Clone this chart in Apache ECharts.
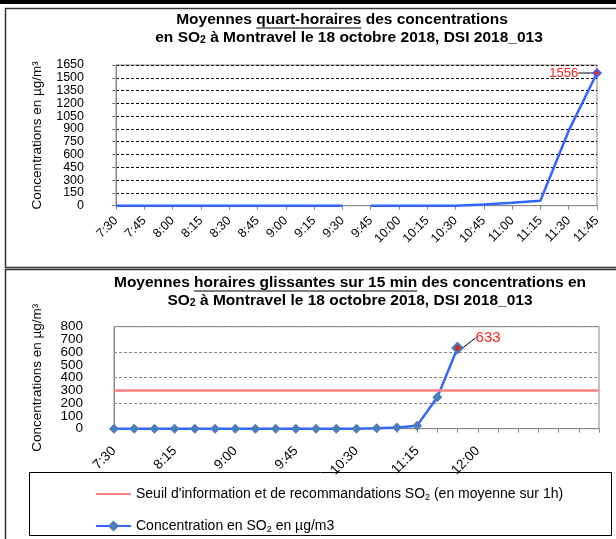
<!DOCTYPE html>
<html><head><meta charset="utf-8">
<script src="https://cdn.jsdelivr.net/npm/echarts@6/dist/echarts.min.js"></script>
<style>html,body{margin:0;padding:0;background:#fff}#c{width:616px;height:539px}</style>
</head><body><div id="c"></div>
<script>
// ---- DATA ----
const quarterLabels = ['7:30','7:45','8:00','8:15','8:30','8:45','9:00','9:15','9:30','9:45','10:00','10:15','10:30','10:45','11:00','11:15','11:30','11:45'];
const quarterValues = [0,0,0,0,0,0,0,0,0,0,0,0,0,15,35,58,880,1556];
const quarterGapAfter = '9:30';
const quarterTicks = [0,150,300,450,600,750,900,1050,1200,1350,1500,1650];

const rollingLabels = ['7:30','7:45','8:00','8:15','8:30','8:45','9:00','9:15','9:30','9:45','10:00','10:15','10:30','10:45','11:00','11:15','11:30','11:45','12:00','','','','','',''];
const rollingValues = [0,0,0,0,0,0,0,0,0,0,0,0,0,3,10,24,246,633];
const rollingTicks = [0,100,200,300,400,500,600,700,800];
const seuil = 300;

const nameSeuil = "Seuil d'information et de recommandations SO₂ (en moyenne sur 1h)";
const nameConc = "Concentration en SO₂ en µg/m3";

// ---- CHART ----
const FF = '"Liberation Sans", Arial, sans-serif';
const TS = 15.5;
const chart = echarts.init(document.getElementById('c'), null, {renderer:'canvas'});

const mctx = document.createElement('canvas').getContext('2d');
mctx.font = 'bold ' + TS + 'px "Liberation Sans"';
function w(t){ return mctx.measureText(t).width; }
function underline(full, before, part, cx, y){
  const x0 = cx - w(full)/2 + w(before);
  return {type:'line', silent:true, shape:{x1:x0, y1:y, x2:x0 + w(part), y2:y}, style:{stroke:'#000', lineWidth:1.2}};
}
// alternate labels between two stacked axes so none get auto-hidden
function parity(ticks, p){
  return v => { const k = ticks.indexOf(v); return (k >= 0 && k % 2 === p) ? String(v) : ''; };
}

const gapIdx = quarterLabels.indexOf(quarterGapAfter);
const lastQ = quarterValues.length - 1;
const lastR = rollingValues.length - 1;

function quarterItem(v, i){
  if (i === lastQ) return {value:v, symbol:'diamond', symbolSize:8,
    itemStyle:{color:'#e03030', borderColor:'#3366ff', borderWidth:1.5},
    label:{show:true, position:'left', distance:4, color:'#ff2020', fontSize:13, fontFamily:FF}};
  return v;
}
const seg1 = quarterValues.map((v,i)=> i <= gapIdx ? quarterItem(v,i) : '-');
const seg2 = quarterValues.map((v,i)=> i > gapIdx ? quarterItem(v,i) : '-');

const rollData = rollingValues.map((v,i)=> i === lastR ? {value:v,
  itemStyle:{color:'#c03030', borderColor:'#4a7ebb', borderWidth:2},
  label:{show:true, position:'right', distance:4, color:'#ff2020', fontSize:15, fontFamily:FF}} : v);

const subRich = {
  n:{fontSize:14, fontFamily:FF, color:'#000', lineHeight:16},
  s:{fontSize:9, fontFamily:FF, color:'#000', verticalAlign:'bottom', lineHeight:12}
};
function richName(name){ return '{n|' + name.split('₂').join('}{s|2}{n|') + '}'; }

const titleRich = {
  s:{fontSize:10.5, fontWeight:'bold', fontFamily:FF, verticalAlign:'bottom', lineHeight:15}
};

const topT1 = 'Moyennes quart-horaires des concentrations';
const botT1 = 'Moyennes horaires glissantes sur 15 min des concentrations en';

const qMin = quarterTicks[0], qMax = quarterTicks[quarterTicks.length-1], qInt = quarterTicks[1]-quarterTicks[0];
const rMin = rollingTicks[0], rMax = rollingTicks[rollingTicks.length-1], rInt = rollingTicks[1]-rollingTicks[0];

const topLabel = {fontSize:12.5, fontFamily:FF, color:'#000', margin:32, showMinLabel:true, showMaxLabel:true};
const botLabel = {fontSize:13.5, fontFamily:FF, color:'#000', margin:31, showMinLabel:true, showMaxLabel:true};

const option = {
  animation:false,
  graphic:[
    {type:'rect', shape:{x:0,y:0,width:616,height:4}, style:{fill:'#000'}},
    {type:'rect', shape:{x:5.5,y:8.5,width:640,height:259}, style:{fill:'none', stroke:'#333', lineWidth:1.5}},
    {type:'rect', shape:{x:5.5,y:269.5,width:640,height:300}, style:{fill:'none', stroke:'#333', lineWidth:1.5}},
    {type:'rect', shape:{x:29.5,y:472.5,width:582,height:63}, style:{fill:'none', stroke:'#000', lineWidth:1}},
    {type:'text', x:342, y:20, style:{text:topT1, fontSize:TS, fontWeight:'bold', fontFamily:FF, fill:'#000', align:'center', verticalAlign:'middle'}},
    underline(topT1, 'Moyennes ', 'quart-horaires', 342, 28),
    {type:'text', x:349, y:38, style:{text:'en SO{s|2} à Montravel le 18 octobre 2018, DSI 2018_013', fontSize:TS, fontWeight:'bold', fontFamily:FF, fill:'#000', align:'center', verticalAlign:'middle', rich:titleRich}},
    {type:'text', x:350, y:283, style:{text:botT1, fontSize:TS, fontWeight:'bold', fontFamily:FF, fill:'#000', align:'center', verticalAlign:'middle'}},
    underline(botT1, 'Moyennes ', 'horaires glissantes sur 15 min', 350, 291),
    {type:'text', x:350, y:301, style:{text:'SO{s|2} à Montravel le 18 octobre 2018, DSI 2018_013', fontSize:TS, fontWeight:'bold', fontFamily:FF, fill:'#000', align:'center', verticalAlign:'middle', rich:titleRich}}
  ],
  legend:{
    orient:'vertical', left:90, top:482, itemWidth:35, itemHeight:14, itemGap:17,
    data:[{name:nameSeuil, itemStyle:{opacity:0}}, nameConc],
    formatter: richName,
    textStyle:{rich:subRich, fontSize:14, fontFamily:FF, color:'#000'}
  },
  grid:[
    {left:116, top:65, width:481, height:140.7, show:true, borderColor:'#888', borderWidth:1, containLabel:false},
    {left:114, top:326.7, width:485, height:102, show:true, borderColor:'#888', borderWidth:1, containLabel:false}
  ],
  xAxis:[
    {type:'category', gridIndex:0, data:quarterLabels, boundaryGap:false,
      axisLine:{lineStyle:{color:'#888'}}, axisTick:{show:true, length:4, interval:0, lineStyle:{color:'#888'}},
      axisLabel:{interval:0, rotate:45, fontSize:12.5, fontFamily:FF, color:'#000', margin:13}, splitLine:{show:false}},
    {type:'category', gridIndex:1, data:rollingLabels, boundaryGap:false,
      axisLine:{lineStyle:{color:'#888'}}, axisTick:{show:true, length:4, interval:0, lineStyle:{color:'#888'}},
      axisLabel:{interval:2, rotate:45, fontSize:13.5, fontFamily:FF, color:'#000', margin:20}, splitLine:{show:false}}
  ],
  yAxis:[
    {type:'value', gridIndex:0, position:'left', min:qMin, max:qMax, interval:qInt,
      name:'Concentrations en µg/m³', nameLocation:'middle', nameGap:72, nameTextStyle:{fontSize:13.5, fontFamily:FF, color:'#000'},
      axisLine:{show:true, lineStyle:{color:'#888'}}, axisTick:{show:true, length:4, lineStyle:{color:'#888'}},
      axisLabel:Object.assign({formatter:parity(quarterTicks,0)}, topLabel),
      splitLine:{show:true, lineStyle:{color:'#000', type:[3,2], width:1}}},
    {type:'value', gridIndex:1, position:'left', min:rMin, max:rMax, interval:rInt,
      name:'Concentrations en µg/m³', nameLocation:'middle', nameGap:70, nameTextStyle:{fontSize:13.5, fontFamily:FF, color:'#000'},
      axisLine:{show:true, lineStyle:{color:'#888'}}, axisTick:{show:false},
      axisLabel:Object.assign({formatter:parity(rollingTicks,0)}, botLabel),
      splitLine:{show:false}},
    {type:'value', gridIndex:1, position:'left', min:rMin, max:rMax, interval:rInt*2,
      axisLine:{show:false}, axisTick:{show:false}, axisLabel:{show:false},
      splitLine:{show:true, lineStyle:{color:'#888', type:[3,2], width:1}}},
    {type:'value', gridIndex:0, position:'left', offset:0, min:qMin, max:qMax, interval:qInt,
      axisLine:{show:false}, axisTick:{show:false}, splitLine:{show:false},
      axisLabel:Object.assign({formatter:parity(quarterTicks,1)}, topLabel)},
    {type:'value', gridIndex:1, position:'left', offset:0, min:rMin, max:rMax, interval:rInt,
      axisLine:{show:false}, axisTick:{show:false}, splitLine:{show:false},
      axisLabel:Object.assign({formatter:parity(rollingTicks,1)}, botLabel)}
  ],
  series:[
    {type:'line', name:'q1', xAxisIndex:0, yAxisIndex:0, data:seg1, symbol:'none', connectNulls:false,
      lineStyle:{color:'#3366ff', width:2.5}, itemStyle:{color:'#3366ff'}, z:3},
    {type:'line', name:'q2', xAxisIndex:0, yAxisIndex:0, data:seg2, symbol:'none', connectNulls:false,
      lineStyle:{color:'#3366ff', width:2.5}, itemStyle:{color:'#3366ff'}, z:3,
      labelLayout:function(p){ return p.dataIndex === lastQ ? {dx:-10} : {}; },
      labelLine:{show:true, lineStyle:{color:'#000', width:1}}},
    {type:'line', name:nameSeuil, xAxisIndex:1, yAxisIndex:1, data:[], symbol:'none',
      color:'#ff8080', lineStyle:{color:'#ff8080', width:2.5}, itemStyle:{color:'#ff8080'},
      markLine:{silent:true, symbol:'none', label:{show:false}, lineStyle:{color:'#ff8080', width:2.5, type:'solid'}, data:[{yAxis:seuil}]}},
    {type:'line', name:nameConc, xAxisIndex:1, yAxisIndex:1, data:rollData, symbol:'diamond', symbolSize:10,
      color:'#3366ff',
      lineStyle:{color:'#3366ff', width:2.5}, itemStyle:{color:'#4a7ebb', borderWidth:0}, z:4,
      labelLayout:function(p){ return p.dataIndex === lastR ? {dx:8, dy:-10} : {}; },
      labelLine:{show:true, lineStyle:{color:'#000', width:1}}}
  ]
};
chart.setOption(option);
</script></body></html>
